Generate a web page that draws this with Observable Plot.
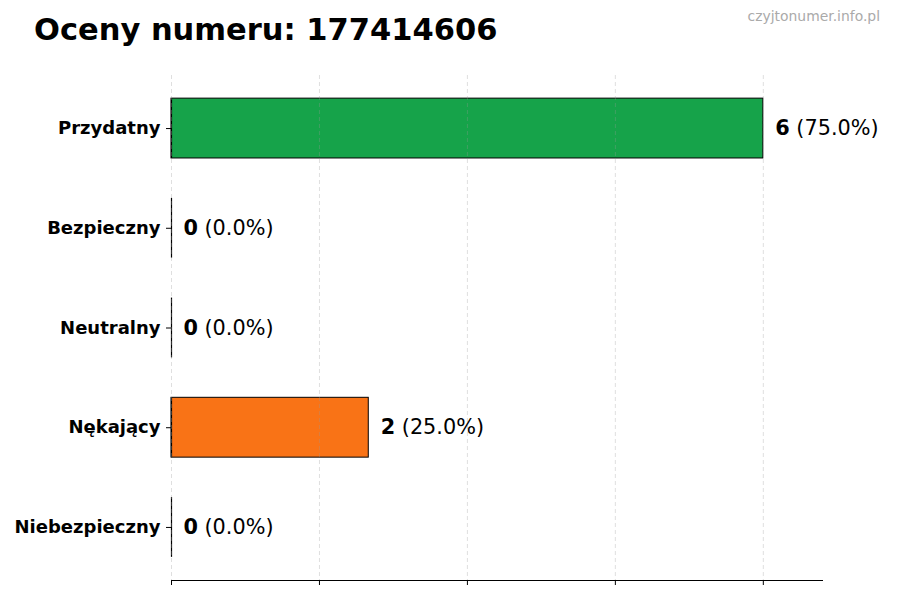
<!DOCTYPE html>
<html>
<head>
<meta charset="utf-8">
<script src="https://cdn.jsdelivr.net/npm/d3@7"></script>
<script src="https://cdn.jsdelivr.net/npm/@observablehq/plot@0.6"></script>
<style>
  body { margin: 0; background: #fff; font-family: "DejaVu Sans", sans-serif; }
  #wrap { width: 900px; height: 600px; position: relative; overflow: hidden; }
  #head { position: relative; height: 60px; }
  #title { position: absolute; left: 34px; top: 15px; font-size: 30.5px; line-height: 30.5px; font-weight: bold; color: #000; white-space: nowrap; }
  #mark { position: absolute; right: 20px; top: 10px; font-size: 13.9px; line-height: 13.9px; color: #aaaaaa; white-space: nowrap; }
</style>
</head>
<body>
<div id="wrap">
  <div id="head">
    <div id="title">Oceny numeru: 177414606</div>
    <div id="mark">czyjtonumer.info.pl</div>
  </div>
  <div id="chart"></div>
</div>
<script>
const categories = ["Przydatny", "Bezpieczny", "Neutralny", "Nękający", "Niebezpieczny"];
const counts = [6, 0, 0, 2, 0];
const percents = [75.0, 0.0, 0.0, 25.0, 0.0];
const colors = ["#16a34a", "#4ade80", "#9ca3af", "#f97316", "#dc2626"];
const gridTicks = [0, 1.5, 3, 4.5, 6];

const data = categories.map((c, i) => ({cat: c, n: counts[i], pct: percents[i], color: colors[i], zero: 0}));

const plot = Plot.plot({
  width: 900,
  height: 540,
  marginTop: 15,
  marginBottom: 20,
  marginLeft: 171,
  marginRight: 78,
  style: {fontFamily: "DejaVu Sans, sans-serif", background: "transparent", color: "#000"},
  x: {domain: [0, 6.6], ticks: gridTicks, tickSize: 5, tickFormat: () => "", line: true, label: null},
  y: {domain: categories, paddingInner: 0.4, paddingOuter: 0.232, round: false, label: null, axis: null},
  marks: [
    Plot.barX(data, {y: "cat", x1: 0, x2: "n", fill: "color", stroke: "#000", strokeWidth: 1}),
    Plot.tickX(data, {x: "zero", y: "cat", stroke: "#000", strokeWidth: 1.2}),
    Plot.gridX(gridTicks, {stroke: "#999", strokeOpacity: 0.4, strokeDasharray: "4,3", strokeWidth: 0.8}),
    Plot.axisY({tickSize: 5, tickPadding: 6, fontSize: 18, fontWeight: "bold", stroke: "#000"}),
    Plot.text(data, {y: "cat", x: "n", text: d => String(d.n), dx: 12, textAnchor: "start", fontSize: 20.8, fontWeight: "bold", fill: "#000"}),
    Plot.text(data, {y: "cat", x: "n", text: d => `(${d.pct.toFixed(1)}%)`, dx: 33, textAnchor: "start", fontSize: 20.8, fill: "#000"})
  ]
});
document.getElementById("chart").appendChild(plot);
</script>
</body>
</html>
